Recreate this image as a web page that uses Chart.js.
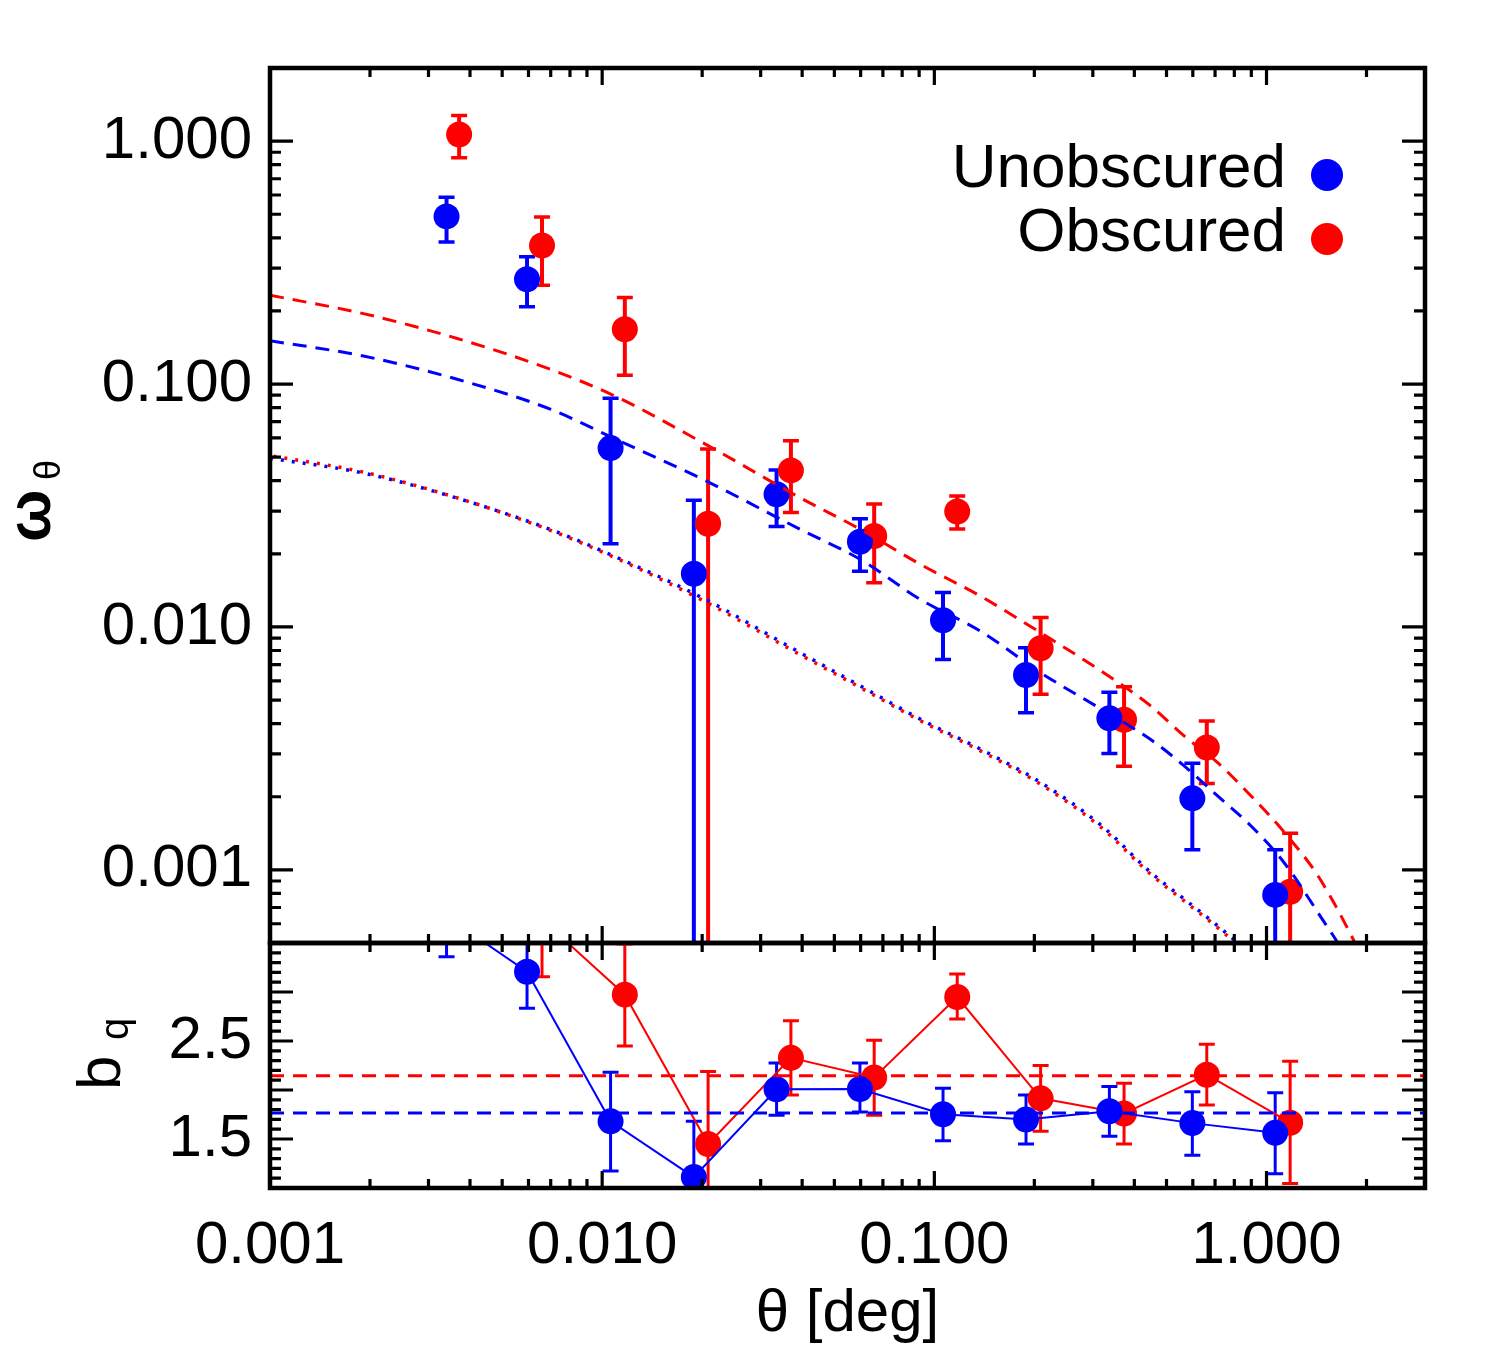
<!DOCTYPE html>
<html><head><meta charset="utf-8">
<script src="https://cdn.jsdelivr.net/npm/chart.js@4.4.0/dist/chart.umd.min.js"></script>
<style>
html,body{margin:0;padding:0;background:#fff;}
#wrap{position:relative;width:1500px;height:1350px;background:#fff;}
canvas{position:absolute;left:0;top:0;}
</style></head><body>
<div id="wrap"><canvas id="topc" width="1500" height="1350"></canvas><canvas id="botc" width="1500" height="1350"></canvas></div>
<script>
// ---------- tick labels ----------
const xTickValues = [0.001, 0.01, 0.1, 1];
const xTickLabels = ['0.001', '0.010', '0.100', '1.000'];
const wTickValues = [0.001, 0.01, 0.1, 1];
const wTickLabels = ['0.001', '0.010', '0.100', '1.000'];
const bTickValues = [1.5, 2.5];
const bTickLabels = ['1.5', '2.5'];
const legendLabels = ['Unobscured', 'Obscured'];

// ---------- Unobscured ----------
const thetaUnobs = [0.0034, 0.00594, 0.0106, 0.01888, 0.0335, 0.0597, 0.1062, 0.1888, 0.3365, 0.598, 1.062];
const wUnobs     = [0.49, 0.270, 0.0545, 0.01655, 0.0352, 0.02244, 0.01066, 0.00634, 0.00421, 0.00197, 0.000789];
const wUnobsHi   = [0.587, 0.334, 0.0874, 0.0332, 0.0443, 0.0279, 0.01387, 0.00822, 0.00539, 0.00275, 0.00121];
const wUnobsLo   = [0.384, 0.208, 0.022, 0, 0.0259, 0.01694, 0.00735, 0.00443, 0.00301, 0.00121, 0.00037];
const bUnobs     = [3.77, 3.207, 1.68, 1.111, 2.008, 2.010, 1.752, 1.698, 1.783, 1.662, 1.563];
const bUnobsHi   = [4.18, 3.58, 2.18, 1.68, 2.276, 2.276, 2.018, 1.949, 2.035, 1.983, 1.973];
const bUnobsLo   = [3.36, 2.835, 1.173, 0.54, 1.742, 1.776, 1.483, 1.449, 1.528, 1.335, 1.145];

// ---------- Obscured ----------
const thetaObs = [0.00371, 0.00659, 0.0117, 0.02084, 0.0370, 0.0659, 0.1172, 0.2089, 0.3725, 0.661, 1.178];
const wObs     = [1.065, 0.372, 0.168, 0.0266, 0.0441, 0.02367, 0.02987, 0.00817, 0.00415, 0.00319, 0.000813];
const wObsHi   = [1.275, 0.487, 0.227, 0.054, 0.0584, 0.0321, 0.0346, 0.01094, 0.00567, 0.0041, 0.001416];
const wObsLo   = [0.855, 0.255, 0.1087, 0, 0.0296, 0.0152, 0.0253, 0.00528, 0.00267, 0.00227, 0.00021];
const bObs     = [4.8, 3.74, 2.973, 1.449, 2.328, 2.128, 2.949, 1.915, 1.760, 2.156, 1.666];
const bObsHi   = [5.3, 4.32, 3.49, 2.19, 2.707, 2.507, 3.183, 2.249, 2.070, 2.466, 2.293];
const bObsLo   = [4.3, 3.156, 2.448, 0.71, 1.949, 1.742, 2.724, 1.580, 1.449, 1.846, 1.046];

// ---------- model curves ----------
const modelTheta = [0.001, 0.00191, 0.00366, 0.00698, 0.0111, 0.0202, 0.0395, 0.0600, 0.0908, 0.1377, 0.2089, 0.317, 0.448, 0.565, 0.711, 0.897, 1.130, 1.425, 1.795, 2.2];
const modelObs   = [0.232, 0.195, 0.154, 0.115, 0.0883, 0.0571, 0.0340, 0.0252, 0.0181, 0.01339, 0.00947, 0.0066, 0.00473, 0.00356, 0.00277, 0.00202, 0.00143, 0.00095, 0.00054, 0.0003];
const modelUnobs = [0.1508, 0.1304, 0.1046, 0.0788, 0.0589, 0.0404, 0.0252, 0.01893, 0.01297, 0.00961, 0.00648, 0.0046, 0.00344, 0.00268, 0.00202, 0.00152, 0.00107, 0.00067, 0.0004, 0.0002];
const dmTheta    = [0.001, 0.00191, 0.00366, 0.00698, 0.0111, 0.0202, 0.0395, 0.0600, 0.0908, 0.1377, 0.2089, 0.317, 0.448, 0.565, 0.711, 0.897];
const dmUnobs    = [0.0495, 0.0430, 0.0339, 0.0252, 0.0193, 0.0131, 0.00783, 0.00571, 0.00417, 0.00314, 0.00229, 0.00153, 0.000977, 0.000759, 0.00059, 0.00045];
const dmObs      = [0.0508, 0.0434, 0.0340, 0.0250, 0.0191, 0.0128, 0.00768, 0.00562, 0.00411, 0.00309, 0.00225, 0.00150, 0.000960, 0.000745, 0.00058, 0.00044];
const biasFitTheta = [0.001, 3];
const biasFitUnobs = [1.766, 1.766];
const biasFitObs   = [2.145, 2.145];

// ---------- styling ----------
const BLUE = '#0000ff', RED = '#ff0000';
const FONT = '"Liberation Sans", Arial, Helvetica, sans-serif';
const X_MIN = 0.001, X_MAX = 3;
const pts = (xs, ys) => xs.map((x, i) => ({x: x, y: ys[i]}));

// ---------- plugins ----------
const errorBars = {
  id: 'errorBars',
  beforeDatasetsDraw(chart) {
    const {ctx, chartArea: a} = chart;
    const xs = chart.scales.x, ys = chart.scales.y;
    ctx.save();
    ctx.beginPath(); ctx.rect(a.left, a.top, a.right - a.left, a.bottom - a.top); ctx.clip();
    chart.data.datasets.forEach(ds => {
      if (!ds.errHi) return;
      ctx.strokeStyle = ds.errColor;
      ds.data.forEach((p, i) => {
        const px = xs.getPixelForValue(p.x);
        const hi = ds.errHi[i], lo = ds.errLo[i];
        const yh = ys.getPixelForValue(hi);
        const yl = (ys.type === 'logarithmic' && lo <= 0) ? a.bottom + 60 : ys.getPixelForValue(lo);
        ctx.lineWidth = ds.errWidth;
        ctx.beginPath(); ctx.moveTo(px, yl); ctx.lineTo(px, yh); ctx.stroke();
        ctx.lineWidth = ds.capWidth;
        ctx.beginPath();
        ctx.moveTo(px - ds.capHalf, yh); ctx.lineTo(px + ds.capHalf, yh);
        ctx.moveTo(px - ds.capHalf, yl); ctx.lineTo(px + ds.capHalf, yl);
        ctx.stroke();
      });
    });
    ctx.restore();
  }
};

function logTicks(min, max) {
  const out = [];
  for (let k = Math.floor(Math.log10(min)); k <= Math.ceil(Math.log10(max)); k++) {
    for (let m = 1; m <= 9; m++) {
      const v = m * Math.pow(10, k);
      if (v >= min * 0.9999 && v <= max * 1.0001) out.push({v: v, major: m === 1});
    }
  }
  return out;
}
function linTicks(min, max) {
  const out = [];
  for (let i = Math.round(min * 10); i <= Math.round(max * 10); i++) out.push({v: i / 10, major: i % 5 === 0});
  return out;
}

const frameTicks = {
  id: 'frameTicks',
  afterDraw(chart) {
    const {ctx, chartArea: a} = chart;
    const xs = chart.scales.x, ys = chart.scales.y;
    ctx.save();
    ctx.strokeStyle = '#000';
    ctx.lineWidth = 3.2;
    ctx.lineCap = 'butt';
    ctx.beginPath();
    logTicks(xs.min, xs.max).forEach(t => {
      const px = xs.getPixelForValue(t.v);
      const L = t.major ? 17 : 9;
      ctx.moveTo(px, a.top); ctx.lineTo(px, a.top + L);
      ctx.moveTo(px, a.bottom); ctx.lineTo(px, a.bottom - L);
    });
    const yt = ys.type === 'logarithmic' ? logTicks(ys.min, ys.max) : linTicks(ys.min, ys.max);
    yt.forEach(t => {
      const py = ys.getPixelForValue(t.v);
      const L = t.major ? 23 : 11;
      ctx.moveTo(a.left, py); ctx.lineTo(a.left + L, py);
      ctx.moveTo(a.right, py); ctx.lineTo(a.right - L, py);
    });
    ctx.stroke();
    ctx.lineWidth = 4.5;
    ctx.strokeRect(a.left, a.top, a.right - a.left, a.bottom - a.top);
    ctx.restore();
  }
};

const topDecor = {
  id: 'topDecor',
  afterDraw(chart) {
    const {ctx} = chart;
    ctx.save();
    ctx.fillStyle = '#000';
    ctx.font = '62px ' + FONT;
    ctx.textAlign = 'right'; ctx.textBaseline = 'middle';
    const cols = [BLUE, RED];
    legendLabels.forEach((lab, i) => {
      const y = 170 + i * 64;
      ctx.fillStyle = '#000';
      ctx.fillText(lab, 1286, y);
      ctx.fillStyle = cols[i];
      ctx.beginPath(); ctx.arc(1327, y + 5, 16, 0, Math.PI * 2); ctx.fill();
    });
    // y title  omega_theta
    ctx.fillStyle = '#000';
    ctx.translate(50, 520); ctx.rotate(-Math.PI / 2);
    ctx.textAlign = 'left'; ctx.textBaseline = 'alphabetic';
    ctx.font = 'bold 62px ' + FONT;
    ctx.fillText('\u03c9', -22, 0);
    ctx.font = '36px ' + FONT;
    ctx.fillText('\u03b8', 40, 10);
    ctx.restore();
  }
};

const botDecor = {
  id: 'botDecor',
  afterDraw(chart) {
    const {ctx} = chart;
    ctx.save();
    ctx.fillStyle = '#000';
    ctx.translate(120, 1066); ctx.rotate(-Math.PI / 2);
    ctx.textAlign = 'left'; ctx.textBaseline = 'alphabetic';
    ctx.font = '62px ' + FONT;
    ctx.fillText('b', -24, 0);
    ctx.font = '40px ' + FONT;
    ctx.fillText('q', 26, 8);
    ctx.restore();
  }
};

// ---------- common axis pieces ----------
function xAxis(show) {
  const ax = {
    type: 'logarithmic', min: X_MIN, max: X_MAX, bounds: 'data',
    display: show, position: 'bottom',
    grid: {display: false}, border: {display: false},
    afterBuildTicks: s => { s.ticks = xTickValues.map(v => ({value: v})); },
    ticks: {
      autoSkip: false, maxRotation: 0, minRotation: 0, padding: 14, color: '#000',
      font: {family: FONT, size: 60},
      callback: (v, i) => xTickLabels[i]
    },
    title: {display: show, text: '\u03b8 [deg]', color: '#000', font: {family: FONT, size: 60}, padding: {top: 0, bottom: 0}}
  };
  if (show) ax.afterFit = s => { s.height = 162; };
  return ax;
}

// ---------- top chart ----------
new Chart(document.getElementById('topc'), {
  type: 'scatter',
  data: {
    datasets: [
      {label: 'model obs', data: pts(modelTheta, modelObs), showLine: true, pointRadius: 0, borderColor: RED, borderWidth: 3, borderDash: [14, 9], cubicInterpolationMode: 'monotone', order: 0},
      {label: 'model unobs', data: pts(modelTheta, modelUnobs), showLine: true, pointRadius: 0, borderColor: BLUE, borderWidth: 3, borderDash: [14, 9], cubicInterpolationMode: 'monotone', order: 0},
      {label: 'dm obs', data: pts(dmTheta, dmObs), showLine: true, pointRadius: 0, borderColor: RED, borderWidth: 3.5, borderDash: [3, 8], borderDashOffset: 7.5, cubicInterpolationMode: 'monotone', order: 0},
      {label: 'dm unobs', data: pts(dmTheta, dmUnobs), showLine: true, pointRadius: 0, borderColor: BLUE, borderWidth: 3.5, borderDash: [3, 8], cubicInterpolationMode: 'monotone', order: 0},
      {label: legendLabels[0], data: pts(thetaUnobs, wUnobs), pointRadius: 13, pointBackgroundColor: BLUE, pointBorderWidth: 0, borderColor: BLUE, showLine: false, order: 1,
       errHi: wUnobsHi, errLo: wUnobsLo, errColor: BLUE, errWidth: 4, capWidth: 3.5, capHalf: 8},
      {label: legendLabels[1], data: pts(thetaObs, wObs), pointRadius: 13, pointBackgroundColor: RED, pointBorderWidth: 0, borderColor: RED, showLine: false, order: 2,
       errHi: wObsHi, errLo: wObsLo, errColor: RED, errWidth: 4, capWidth: 3.5, capHalf: 8}
    ]
  },
  options: {
    responsive: false, animation: false, devicePixelRatio: 1,
    layout: {padding: {top: 68, right: 75, bottom: 407, left: 0}},
    plugins: {legend: {display: false}, tooltip: {enabled: false}},
    scales: {
      x: xAxis(false),
      y: {
        type: 'logarithmic', min: 0.0005, max: 2, bounds: 'data', position: 'left',
        grid: {display: false}, border: {display: false},
        afterBuildTicks: s => { s.ticks = wTickValues.map(v => ({value: v})); },
        afterFit: s => { s.width = 270; },
        ticks: {autoSkip: false, padding: 10, color: '#000', font: {family: FONT, size: 60}, callback: (v, i) => wTickLabels[i]}
      }
    }
  },
  plugins: [errorBars, frameTicks, topDecor]
});

// ---------- bottom chart ----------
new Chart(document.getElementById('botc'), {
  type: 'scatter',
  data: {
    datasets: [
      {label: 'fit obs', data: pts(biasFitTheta, biasFitObs), showLine: true, pointRadius: 0, borderColor: RED, borderWidth: 3, borderDash: [14, 9], order: 0},
      {label: 'fit unobs', data: pts(biasFitTheta, biasFitUnobs), showLine: true, pointRadius: 0, borderColor: BLUE, borderWidth: 3, borderDash: [14, 9], order: 0},
      {label: legendLabels[0], data: pts(thetaUnobs, bUnobs), showLine: true, borderColor: BLUE, borderWidth: 2, pointRadius: 13, pointBackgroundColor: BLUE, pointBorderWidth: 0, order: 1,
       errHi: bUnobsHi, errLo: bUnobsLo, errColor: BLUE, errWidth: 3, capWidth: 3, capHalf: 8},
      {label: legendLabels[1], data: pts(thetaObs, bObs), showLine: true, borderColor: RED, borderWidth: 2, pointRadius: 13, pointBackgroundColor: RED, pointBorderWidth: 0, order: 2,
       errHi: bObsHi, errLo: bObsLo, errColor: RED, errWidth: 3, capWidth: 3, capHalf: 8}
    ]
  },
  options: {
    responsive: false, animation: false, devicePixelRatio: 1,
    layout: {padding: {top: 943, right: 75, bottom: 0, left: 0}},
    plugins: {legend: {display: false}, tooltip: {enabled: false}},
    scales: {
      x: xAxis(true),
      y: {
        type: 'linear', min: 1.0, max: 3.5, bounds: 'data', position: 'left',
        grid: {display: false}, border: {display: false},
        afterBuildTicks: s => { s.ticks = bTickValues.map(v => ({value: v})); },
        afterFit: s => { s.width = 270; },
        ticks: {autoSkip: false, padding: 10, color: '#000', font: {family: FONT, size: 60}, callback: (v, i) => bTickLabels[i]}
      }
    }
  },
  plugins: [errorBars, frameTicks, botDecor]
});
</script>
</body></html>
